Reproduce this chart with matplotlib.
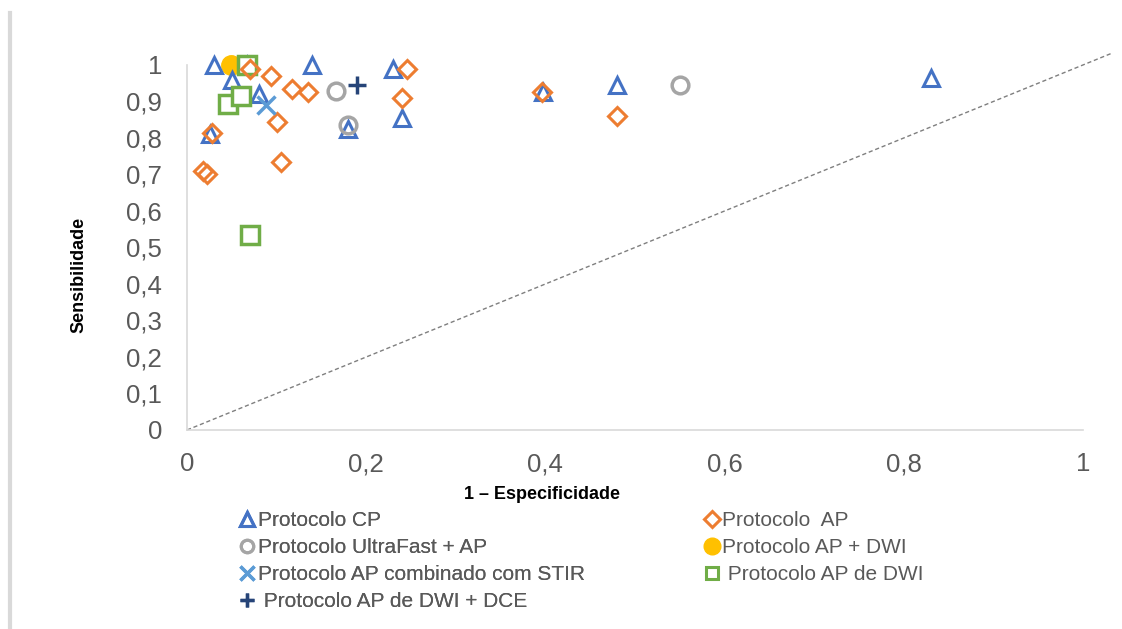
import matplotlib
matplotlib.use("Agg")
import matplotlib.pyplot as plt
from matplotlib.lines import Line2D
from matplotlib.ticker import FuncFormatter

plt.rcParams['font.family'] = ['Liberation Sans', 'DejaVu Sans']

# (1 - especificidade, sensibilidade) por protocolo
cp_x = [0.03, 0.05, 0.067, 0.08, 0.026, 0.14, 0.23, 0.18, 0.24, 0.397, 0.48, 0.83]
cp_y = [1.0, 0.96, 1.0, 0.92, 0.81, 1.0, 0.99, 0.825, 0.855, 0.925, 0.945, 0.965]

ap_x = [0.018, 0.022, 0.028, 0.07, 0.094, 0.10, 0.105, 0.117, 0.135, 0.246, 0.24, 0.396, 0.48]
ap_y = [0.71, 0.70, 0.815, 0.99, 0.97, 0.845, 0.735, 0.935, 0.925, 0.99, 0.91, 0.925, 0.86]

uf_x = [0.166, 0.18, 0.55]
uf_y = [0.93, 0.835, 0.945]

dwi_x = [0.049]
dwi_y = [1.0]

stir_x = [0.088]
stir_y = [0.89]

apdwi_x = [0.067, 0.046, 0.06, 0.07]
apdwi_y = [1.0, 0.893, 0.915, 0.535]

dce_x = [0.19]
dce_y = [0.945]

fig = plt.figure(figsize=(11.22, 6.29), dpi=100)
ax = fig.add_axes([0.1667, 0.3164, 0.7985, 0.5803])

# linha de referencia
ax.plot([0, 1.032], [0, 1.032], ls=(0, (3, 2)), color='#7f7f7f', lw=1, clip_on=False, zorder=1)

ax.plot(cp_x, cp_y, ls='none', marker='^', ms=12, mfc='none', mec='#4472C4', mew=2.2, clip_on=False, zorder=3)
ax.plot(ap_x, ap_y, ls='none', marker='D', ms=9, mfc='none', mec='#ED7D31', mew=2.2, clip_on=False, zorder=4)
ax.plot(uf_x, uf_y, ls='none', marker='o', ms=12, mfc='none', mec='#A5A5A5', mew=2.5, clip_on=False, zorder=5)
ax.plot(dwi_x, dwi_y, ls='none', marker='o', ms=14, mfc='#FFC000', mec='#FFC000', clip_on=False, zorder=2)
ax.plot(stir_x, stir_y, ls='none', marker='x', ms=13, mec='#5B9BD5', mew=2.5, clip_on=False, zorder=6)
ax.plot(apdwi_x, apdwi_y, ls='none', marker='s', ms=13, mfc='white', mec='#70AD47', mew=2.5, clip_on=False, zorder=3)
ax.plot(dce_x, dce_y, ls='none', marker='+', ms=13, mec='#264478', mew=2.5, clip_on=False, zorder=6)

ax.set_xlim(0, 1)
ax.set_ylim(0, 1)
ax.set_xticks([0, 0.2, 0.4, 0.6, 0.8, 1])
ax.set_yticks([i / 10 for i in range(11)])
fmt = FuncFormatter(lambda v, p: ('%g' % round(v, 2)).replace('.', ','))
ax.xaxis.set_major_formatter(fmt)
ax.yaxis.set_major_formatter(fmt)
ax.tick_params(length=0, labelsize=18.5, labelcolor='#595959')
ax.tick_params(axis='x', pad=16)
ax.tick_params(axis='y', pad=18)
for s in ['top', 'right']:
    ax.spines[s].set_visible(False)
for s in ['left', 'bottom']:
    ax.spines[s].set_color('#d9d9d9')
    ax.spines[s].set_linewidth(1.2)

ax.set_xlabel('1 – Especificidade', fontsize=13, fontweight='bold', va='center')
ax.xaxis.set_label_coords(0.396, -0.178)
ax.set_ylabel('Sensibilidade', fontsize=13, fontweight='bold', va='center')
ax.yaxis.set_label_coords(-0.121, 0.425)

leg_kw = dict(frameon=False, fontsize=15, labelcolor='#595959', handlelength=0.7,
              handletextpad=0.15, labelspacing=0.38, borderpad=0, borderaxespad=0, loc='upper left')

leg1 = fig.legend([Line2D([], [], ls='none', marker='^', ms=10, mfc='none', mec='#4472C4', mew=2.2),
                   Line2D([], [], ls='none', marker='o', ms=9, mfc='none', mec='#A5A5A5', mew=2.2),
                   Line2D([], [], ls='none', marker='x', ms=10, mec='#5B9BD5', mew=2.4),
                   Line2D([], [], ls='none', marker='+', ms=10, mec='#264478', mew=2.4)],
                  ['Protocolo CP', 'Protocolo UltraFast + AP', 'Protocolo AP combinado com STIR',
                   ' Protocolo AP de DWI + DCE'],
                  bbox_to_anchor=(0.214, 0.187), **leg_kw)
fig.add_artist(leg1)
fig.legend([Line2D([], [], ls='none', marker='D', ms=8, mfc='none', mec='#ED7D31', mew=2.2),
            Line2D([], [], ls='none', marker='o', ms=12, mfc='#FFC000', mec='#FFC000'),
            Line2D([], [], ls='none', marker='s', ms=9, mfc='white', mec='#70AD47', mew=2.2)],
           ['Protocolo  AP', 'Protocolo AP + DWI', ' Protocolo AP de DWI'],
           bbox_to_anchor=(0.628, 0.187), **leg_kw)

# borda esquerda do grafico
fig.add_artist(Line2D([0.0085, 0.0085], [0, 0.98], color='#d9d9d9', lw=3, transform=fig.transFigure))

fig.savefig('out.png', dpi=100, facecolor='white')
